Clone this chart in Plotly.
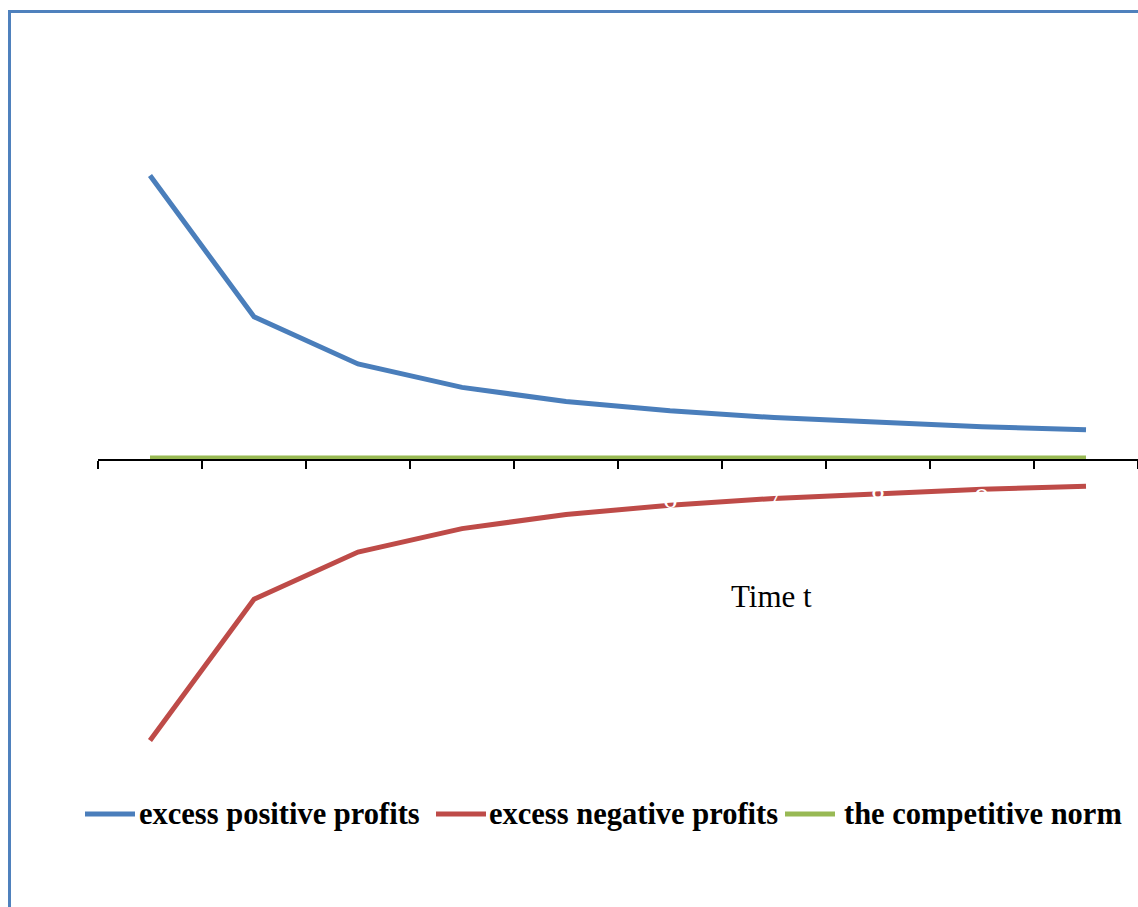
import plotly.graph_objects as go

# Time periods and profit paths converging to the competitive norm
periods = ["1", "2", "3", "4", "5", "6", "7", "8", "9", "10"]
positive_profits = [1.0, 0.5, 0.333, 0.25, 0.2, 0.167, 0.143, 0.125, 0.111, 0.1]
negative_profits = [-1.0, -0.5, -0.333, -0.25, -0.2, -0.167, -0.143, -0.125, -0.111, -0.1]
competitive_norm = [0, 0, 0, 0, 0, 0, 0, 0, 0, 0]

series_names = ["excess positive profits", "excess negative profits", "the competitive norm"]
series_colors = ["#4A7EBB", "#BE4B48", "#98B954"]

SERIF = "Liberation Serif"

fig = go.Figure()
for name, color, values in zip(series_names, series_colors,
                               [positive_profits, negative_profits, competitive_norm]):
    fig.add_trace(go.Scatter(x=periods, y=values, mode="lines", name=name,
                             showlegend=False,
                             line=dict(color=color, width=5)))

W, H = 1138, 907
mt, mb, ml, mr = 40, 127, 98, 0
plot_h = H - mt - mb

def paper_y(py):
    return (H - mb - py) / plot_h

def paper_x(px):
    return (px - ml) / (W - ml - mr)

# Horizontal key below the chart: line sample followed by a bold label
key_samples = [83, 434, 783]
key_labels = [137, 487, 842]
key_y = 814
shapes = []
annotations = []
for start, label_x, name, color in zip(key_samples, key_labels, series_names, series_colors):
    shapes.append(dict(type="line", xref="paper", yref="paper",
                       x0=paper_x(start + 2), x1=paper_x(start + 52),
                       y0=paper_y(key_y), y1=paper_y(key_y),
                       line=dict(color=color, width=5)))
    annotations.append(dict(text=f"<b>{name}</b>", xref="paper", yref="paper",
                            x=paper_x(label_x), y=paper_y(key_y),
                            xanchor="left", yanchor="middle", showarrow=False,
                            font=dict(family=SERIF, size=30.5, color="black")))

annotations.append(dict(text="Time t", xref="paper", yref="paper",
                        x=paper_x(771), y=paper_y(596),
                        xanchor="center", yanchor="middle", showarrow=False,
                        font=dict(family=SERIF, size=31, color="black")))

# Outer frame of the chart area
shapes.append(dict(type="rect", xref="paper", yref="paper",
                   x0=paper_x(9.5), x1=paper_x(1200),
                   y0=paper_y(1000), y1=paper_y(11.5),
                   line=dict(color="#4F81BD", width=3),
                   fillcolor="rgba(0,0,0,0)", layer="above"))

fig.update_layout(
    width=W, height=H,
    margin=dict(l=ml, r=mr, t=mt, b=mb),
    paper_bgcolor="white", plot_bgcolor="white",
    font=dict(family=SERIF, color="black", size=31),
    showlegend=False,
    xaxis=dict(type="category", range=[-0.5, 9.5],
               showgrid=False, zeroline=False,
               showline=True, linecolor="black", linewidth=2,
               ticks="outside", tickson="boundaries", ticklen=8,
               tickwidth=2, tickcolor="black",
               tickfont=dict(family=SERIF, size=29, color="white"),
               ticklabelstandoff=13,
               anchor="free", position=paper_y(459.5)),
    yaxis=dict(range=[-(780 - 458) / 282.5, (458 - 40) / 282.5],
               showgrid=False, zeroline=False, showline=False,
               showticklabels=False, ticks=""),
    annotations=annotations,
    shapes=shapes,
)

fig.write_html("out.html")
